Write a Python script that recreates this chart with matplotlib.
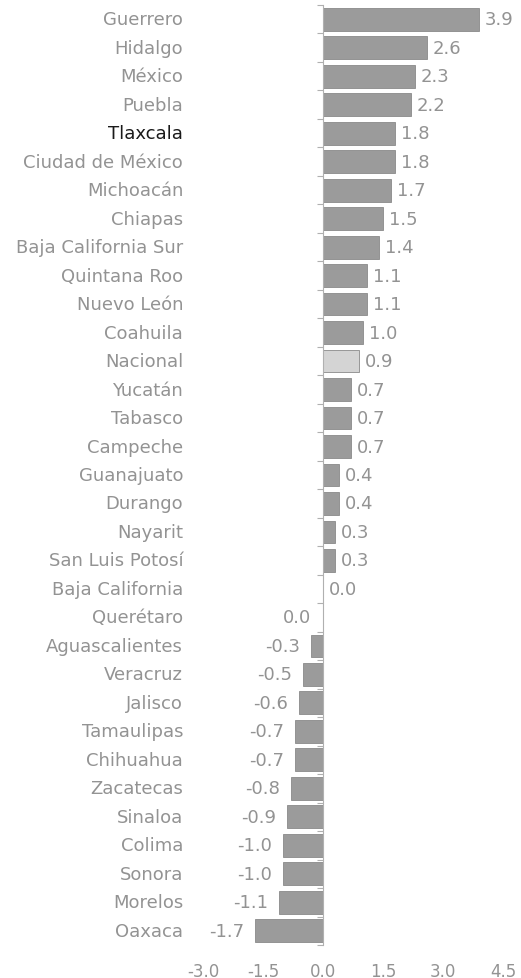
import matplotlib.pyplot as plt
import matplotlib.transforms as mtransforms
import numpy as np

states = ['Guerrero', 'Hidalgo', 'México', 'Puebla', 'Tlaxcala', 'Ciudad de México',
          'Michoacán', 'Chiapas', 'Baja California Sur', 'Quintana Roo', 'Nuevo León',
          'Coahuila', 'Nacional', 'Yucatán', 'Tabasco', 'Campeche', 'Guanajuato',
          'Durango', 'Nayarit', 'San Luis Potosí', 'Baja California', 'Querétaro',
          'Aguascalientes', 'Veracruz', 'Jalisco', 'Tamaulipas', 'Chihuahua',
          'Zacatecas', 'Sinaloa', 'Colima', 'Sonora', 'Morelos', 'Oaxaca']
values = [3.9, 2.6, 2.3, 2.2, 1.8, 1.8, 1.7, 1.5, 1.4, 1.1, 1.1, 1.0, 0.9, 0.7, 0.7,
          0.7, 0.4, 0.4, 0.3, 0.3, 0.0, -0.01, -0.3, -0.5, -0.6, -0.7, -0.7, -0.8,
          -0.9, -1.0, -1.0, -1.1, -1.7]
x_ticks = [-3.0, -1.5, 0.0, 1.5, 3.0, 4.5]

gray = '#939393'
fs = 13

fig = plt.figure(figsize=(5.21, 9.79), dpi=100)
ax = fig.add_axes([203 / 521, 1 - 946 / 979, 300 / 521, 940 / 979])

y = np.arange(len(states))
colors = ['#d4d4d4' if s == 'Nacional' else '#9b9b9b' for s in states]
ax.barh(y, values, height=0.8, color=colors, edgecolor='#8a8a8a', linewidth=0.6)

ax.set_xlim(-3.0, 4.5)
ax.set_ylim(len(states) - 0.5, -0.5)

for sp in ['top', 'right', 'bottom']:
    ax.spines[sp].set_visible(False)
ax.spines['left'].set_position(('data', 0))
ax.spines['left'].set_color('#b0b0b0')
ax.set_yticks(np.arange(len(states) + 1) - 0.5)
ax.set_yticklabels([])
ax.tick_params(axis='y', length=4, color='#b0b0b0', width=0.8)

ax.set_xticks(x_ticks)
ax.set_xticklabels([f'{t:.1f}' for t in x_ticks])
ax.tick_params(axis='x', length=0, pad=12, labelsize=12, labelcolor=gray)

trans = mtransforms.blended_transform_factory(ax.transAxes, ax.transData)
for i, (s, v) in enumerate(zip(states, values)):
    c = '#1a1a1a' if s == 'Tlaxcala' else gray
    ax.text(-0.066, i, s, transform=trans, ha='right', va='center', fontsize=fs, color=c)
    lab = f'{v:.1f}'.replace('-0.0', '0.0')
    if v >= 0:
        ax.annotate(lab, (v, i), xytext=(4, 0), textcoords='offset points',
                    ha='left', va='center', fontsize=fs, color=gray)
    else:
        ax.annotate(lab, (v, i), xytext=(-8, 0), textcoords='offset points',
                    ha='right', va='center', fontsize=fs, color=gray)

fig.savefig('out.png', dpi=100)
